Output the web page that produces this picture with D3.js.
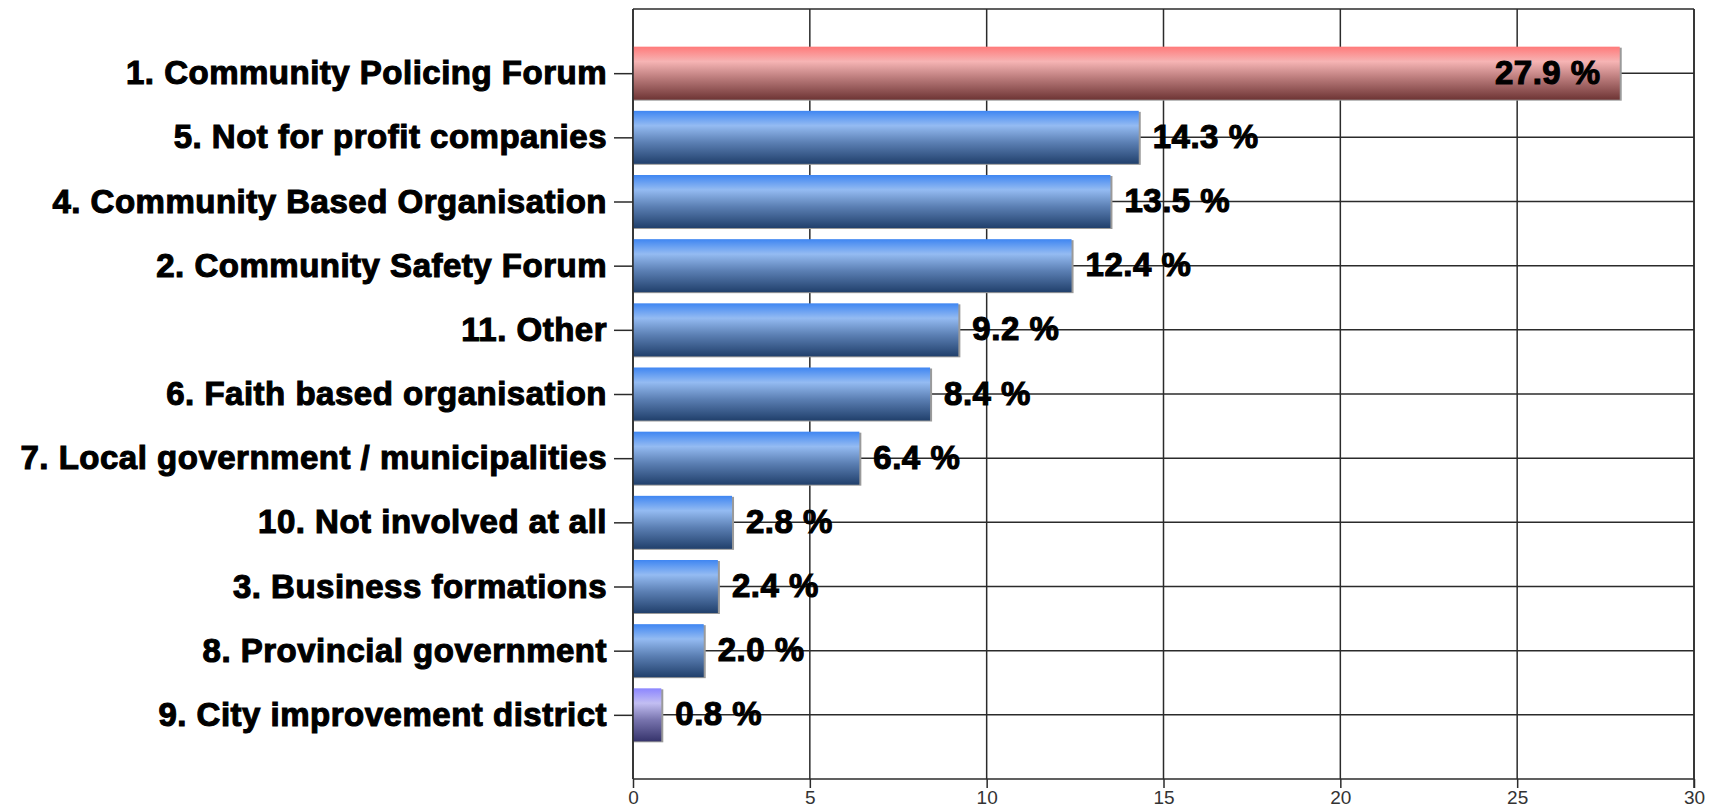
<!DOCTYPE html>
<html>
<head>
<meta charset="utf-8">
<script src="https://cdn.jsdelivr.net/npm/d3@7"></script>
<style>
  html, body { margin: 0; padding: 0; background: #fff; }
  svg { display: block; }
</style>
</head>
<body>
<svg id="chart" width="1719" height="810"></svg>
<script>
const categories = [
  "1. Community Policing Forum",
  "5. Not for profit companies",
  "4. Community Based Organisation",
  "2. Community Safety Forum",
  "11. Other",
  "6. Faith based organisation",
  "7. Local government / municipalities",
  "10. Not involved at all",
  "3. Business formations",
  "8. Provincial government",
  "9. City improvement district"
];
const values = [27.9, 14.3, 13.5, 12.4, 9.2, 8.4, 6.4, 2.8, 2.4, 2.0, 0.8];
const colorGroup = ["red", "blue", "blue", "blue", "blue", "blue", "blue", "blue", "blue", "blue", "purple"];
const xTicks = [0, 5, 10, 15, 20, 25, 30];

(function () {
const svg = d3.select("#chart");
const pLeft = 633, pRight = 1694, pTop = 9, pBottom = 779;

const x = d3.scaleLinear().domain([0, 30]).range([pLeft, pRight]);
const y = d3.scalePoint().domain(categories).range([pTop, pBottom]).padding(1);
const barH = 53;

// gradients
const defs = svg.append("defs");
const grads = {
  red:    [["0%", "#ff7a7a"], ["28%", "#f6b4b4"], ["60%", "#b97a7a"], ["100%", "#6e3535"]],
  blue:   [["0%", "#3f86f2"], ["28%", "#94bbf2"], ["60%", "#5b7fb3"], ["100%", "#21406c"]],
  purple: [["0%", "#8c86ff"], ["28%", "#c2bef2"], ["60%", "#7773ad"], ["100%", "#36346c"]]
};
Object.entries(grads).forEach(([k, stops]) => {
  const g = defs.append("linearGradient").attr("id", "g-" + k)
    .attr("x1", 0).attr("y1", 0).attr("x2", 0).attr("y2", 1);
  stops.forEach(s => g.append("stop").attr("offset", s[0]).attr("stop-color", s[1]));
});

const lineColor = "#2b2b2b";

// vertical grid lines
svg.append("g").selectAll("line").data(xTicks).join("line")
  .attr("x1", d => x(d)).attr("x2", d => x(d))
  .attr("y1", pTop).attr("y2", pBottom)
  .attr("stroke", lineColor).attr("stroke-width", 1.5);

// horizontal grid lines
svg.append("g").selectAll("line").data(categories).join("line")
  .attr("x1", pLeft).attr("x2", pRight)
  .attr("y1", d => y(d)).attr("y2", d => y(d))
  .attr("stroke", lineColor).attr("stroke-width", 1.5);

// top border
svg.append("line").attr("x1", pLeft).attr("x2", pRight).attr("y1", pTop).attr("y2", pTop)
  .attr("stroke", lineColor).attr("stroke-width", 1.5);

// bars (shadow + bar)
const bars = svg.append("g");
bars.selectAll("rect.shadow").data(values).join("rect").attr("class", "shadow")
  .attr("x", x(0) + 1)
  .attr("y", (d, i) => y(categories[i]) - barH / 2 + 1)
  .attr("width", d => x(d) - x(0) + 1)
  .attr("height", barH)
  .attr("fill", "#9a9a9a");
bars.selectAll("rect.bar").data(values).join("rect").attr("class", "bar")
  .attr("x", x(0))
  .attr("y", (d, i) => y(categories[i]) - barH / 2)
  .attr("width", d => x(d) - x(0))
  .attr("height", barH)
  .attr("fill", (d, i) => "url(#g-" + colorGroup[i] + ")");

// y axis
const yAxis = svg.append("g").attr("transform", `translate(${pLeft},0)`)
  .call(d3.axisLeft(y).tickSize(19).tickPadding(7));
yAxis.select(".domain").attr("stroke", lineColor).attr("stroke-width", 1.5)
  .attr("d", `M0,${pTop}V${pBottom}`);
yAxis.selectAll(".tick line").attr("stroke", lineColor).attr("stroke-width", 1.5);
yAxis.selectAll(".tick text")
  .attr("font-family", "'Liberation Sans', Arial, sans-serif")
  .attr("font-weight", "bold")
  .attr("font-size", 33)
  .attr("letter-spacing", "0.5px")
  .attr("fill", "#000")
  .attr("stroke", "#000").attr("stroke-width", 1.1)
  .attr("dy", "0.32em");

// x axis
const xAxis = svg.append("g").attr("transform", `translate(0,${pBottom})`)
  .call(d3.axisBottom(x).tickValues(xTicks).tickSize(9).tickPadding(3).tickFormat(d3.format("d")));
xAxis.select(".domain").attr("stroke", lineColor).attr("stroke-width", 1.5)
  .attr("d", `M${pLeft},0H${pRight}`);
xAxis.selectAll(".tick line").attr("stroke", lineColor).attr("stroke-width", 1.5);
xAxis.selectAll(".tick text")
  .attr("font-family", "'Liberation Sans', Arial, sans-serif")
  .attr("font-size", 19)
  .attr("fill", "#333");

// right border
svg.append("line").attr("x1", pRight).attr("x2", pRight).attr("y1", pTop).attr("y2", pBottom + 9)
  .attr("stroke", lineColor).attr("stroke-width", 1.5);

// value labels
svg.append("g").selectAll("text").data(values).join("text")
  .attr("x", d => d > 25 ? x(d) - 19 : x(d) + 14)
  .attr("y", (d, i) => y(categories[i]))
  .attr("dy", "0.32em")
  .attr("text-anchor", d => d > 25 ? "end" : "start")
  .attr("font-family", "'Liberation Sans', Arial, sans-serif")
  .attr("font-weight", "bold")
  .attr("font-size", 33)
  .attr("letter-spacing", "0.5px")
  .attr("fill", "#000")
  .attr("stroke", "#000").attr("stroke-width", 1.1)
  .text(d => d.toFixed(1) + " %");
})();
</script>
</body>
</html>
